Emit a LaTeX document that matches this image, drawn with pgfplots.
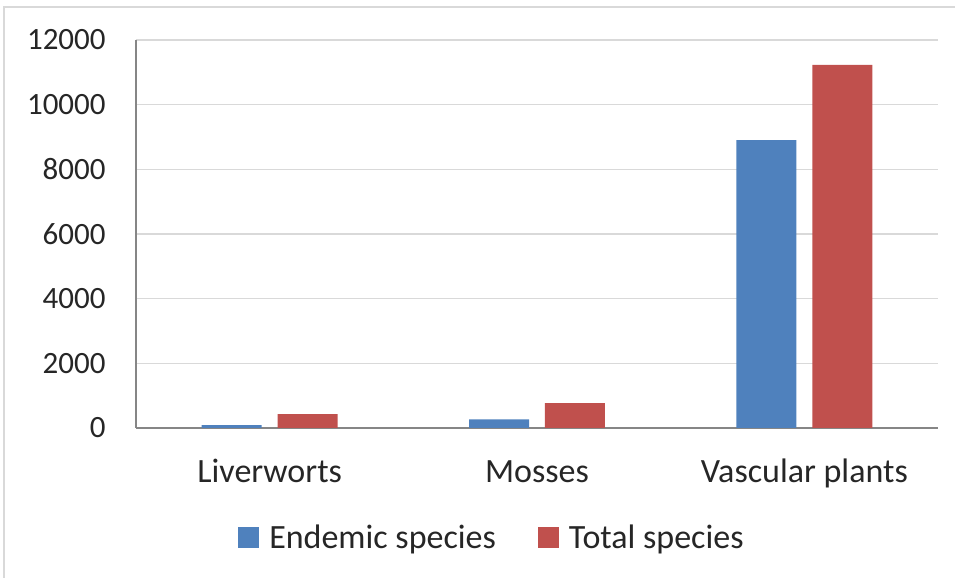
\documentclass[border=0pt]{standalone}
\usepackage{fontspec}
\setmainfont{Carlito}
\usepackage{pgfplots}
\pgfplotsset{compat=1.18}
\definecolor{cblue}{HTML}{4F81BD}
\definecolor{cred}{HTML}{C0504D}
\definecolor{cgrid}{HTML}{D9D9D9}
\definecolor{caxis}{HTML}{868686}
\definecolor{ctext}{HTML}{262626}
\begin{document}
\begin{tikzpicture}[x=1pt,y=1pt]
\path[use as bounding box] (-68,-75) rectangle (409.5,214);
\draw[cgrid,line width=0.8pt] (-66,-80) -- (-66,210.5) -- (420,210.5);
\begin{axis}[
  at={(0,0)}, anchor=south west,
  scale only axis, width=401pt, height=194pt,
  xmin=-0.5, xmax=2.5, ymin=0, ymax=12000,
  ytick={0,2000,4000,6000,8000,10000,12000},
  xtick={0,1,2}, xticklabels={Liverworts,Mosses,Vascular plants},
  major tick length=0pt,
  axis line style={caxis, line width=0.9pt},
  axis x line*=bottom, axis y line*=left,
  ymajorgrids, grid style={cgrid, line width=0.8pt},
  scaled y ticks=false,
  /pgf/number format/assume math mode=true,
  yticklabel={\pgfmathprintnumber[fixed,precision=0,1000 sep={}]{\tick}},
  yticklabel style={font=\fontsize{15.5}{18}\selectfont, text=ctext, anchor=east, inner sep=0pt, xshift=-15pt},
  xticklabel style={font=\fontsize{17}{20}\selectfont, text=ctext, anchor=base, inner sep=0pt, yshift=-27.5pt},
  legend style={at={(0.127,-0.2835)}, anchor=west, draw=none, fill=none,
    font=\fontsize{17}{20}\selectfont, text=ctext, column sep=0pt, inner sep=0pt,
    /tikz/every odd column/.append style={column sep=3pt},
    /tikz/every even column/.append style={column sep=19pt}},
  legend columns=2,
  legend cell align=left,
]
\addplot[ybar, bar width=0.2245, bar shift=-0.142, fill=cblue, draw=none,
  legend image code/.code={\fill[cblue] (0pt,-5pt) rectangle (10.5pt,5.5pt);}] coordinates {(0,90) (1,270) (2,8900)};
\addplot[ybar, bar width=0.2245, bar shift=0.142, fill=cred, draw=none,
  legend image code/.code={\fill[cred] (0pt,-5pt) rectangle (10.5pt,5.5pt);}] coordinates {(0,430) (1,770) (2,11230)};
\legend{Endemic species, Total species}
\end{axis}
\end{tikzpicture}
\end{document}
